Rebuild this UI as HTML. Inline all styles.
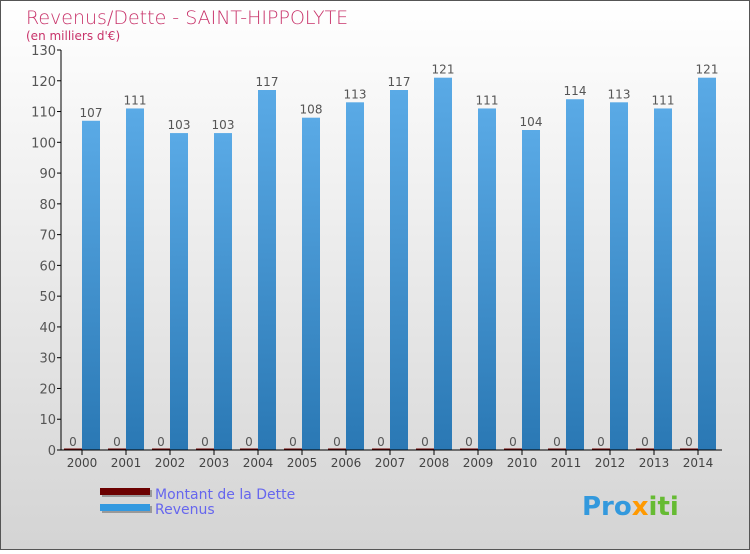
<!DOCTYPE html>
<html><head><meta charset="utf-8"><style>
html,body{margin:0;padding:0}
body{width:750px;height:550px;overflow:hidden;font-family:"DejaVu Sans","Liberation Sans",sans-serif}
</style></head><body>
<svg width="750" height="550" xmlns="http://www.w3.org/2000/svg">
<defs>
<linearGradient id="bg" x1="0" y1="0" x2="0" y2="1"><stop offset="0" stop-color="#ffffff"/><stop offset="1" stop-color="#d4d4d4"/></linearGradient>
<linearGradient id="blue" x1="0" y1="0" x2="0" y2="1"><stop offset="0" stop-color="#5aaae6"/><stop offset="1" stop-color="#2a78b4"/></linearGradient>
</defs>
<rect x="0.5" y="0.5" width="749" height="549" fill="url(#bg)" stroke="#555"/>
<text x="26" y="24" font-size="19" fill="#c8336a" font-weight="300">Revenus/Dette - SAINT-HIPPOLYTE</text>
<text x="26" y="40" font-size="12" fill="#c8336a">(en milliers d'€)</text>
<g id="plot"></g>
<g>
<rect x="102" y="490" width="50" height="7" fill="#999"/>
<rect x="100" y="488" width="50" height="7" fill="#6b0000"/>
<text x="155" y="499" font-size="14" fill="#6666ee">Montant de la Dette</text>
<rect x="102" y="506" width="50" height="7" fill="#999"/>
<rect x="100" y="504" width="50" height="7" fill="#3399e0"/>
<text x="155" y="514" font-size="14" fill="#6666ee">Revenus</text>
</g>
<text x="582" y="515" font-size="26" font-weight="bold" fill="#3399dd">Pro<tspan fill="#ff9900">x</tspan><tspan fill="#66bb33">iti</tspan></text>
</svg>
<script>
const years=["2000","2001","2002","2003","2004","2005","2006","2007","2008","2009","2010","2011","2012","2013","2014"];
const revenus=[107,111,103,103,117,108,113,117,121,111,104,114,113,111,121];
const dette=[0,0,0,0,0,0,0,0,0,0,0,0,0,0,0];
const yTicks=[0,10,20,30,40,50,60,70,80,90,100,110,120,130];
const NS="http://www.w3.org/2000/svg";
const g=document.getElementById('plot');
function y(v){return 450-v*400/130;}
function x(i){return 82+i*44;}
function mk(t,a,p){const e=document.createElementNS(NS,t);for(const k in a)e.setAttribute(k,a[k]);(p||g).appendChild(e);return e;}
yTicks.forEach(v=>{
 const l=mk('line',{x1:57,x2:61,y1:y(v),y2:y(v),stroke:'#000'});
 
 
 const t=mk('text',{x:56,y:y(v)+5,'text-anchor':'end','font-size':13,fill:'#555'});
 t.textContent=v;
 
 
});
years.forEach((yr,i)=>{
 const c=x(i);
 const d=mk('rect',{x:c-18,y:y(dette[i])-1.5,width:18,height:1.5+(450-y(dette[i])),fill:'#6b0000'});
 
 
 const b=mk('rect',{x:c,y:y(revenus[i]),width:18,height:450-y(revenus[i]),fill:'url(#blue)'});
 
 
 const t1=mk('text',{x:c-9,y:y(dette[i])-4,'text-anchor':'middle','font-size':12,fill:'#555'});
 t1.textContent=dette[i];
 
 
 const t2=mk('text',{x:c+9,y:y(revenus[i])-4,'text-anchor':'middle','font-size':12,fill:'#555'});
 t2.textContent=revenus[i];
 
 
 const tk=mk('line',{x1:c,x2:c,y1:450,y2:455,stroke:'#000'});
 
 
 const xl=mk('text',{x:c,y:467,'text-anchor':'middle','font-size':12,fill:'#444'});
 xl.textContent=yr;
 
 
});
const ya=mk('line',{x1:61,x2:61,y1:50,y2:450,stroke:'#000'});


const xa=mk('line',{x1:61,x2:722,y1:450,y2:450,stroke:'#000'});


</script>
</body></html>
